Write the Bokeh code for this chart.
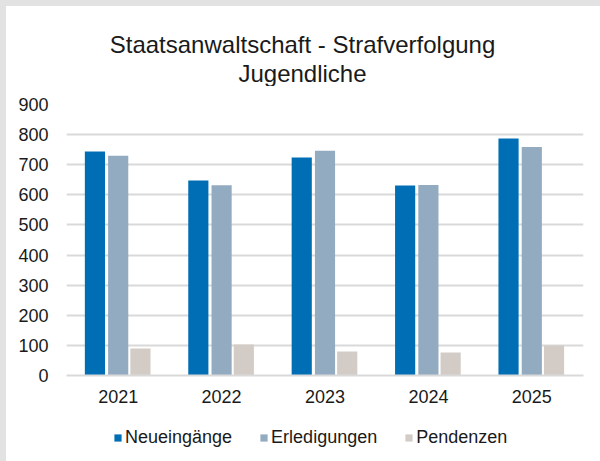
from bokeh.plotting import figure
from bokeh.layouts import column, row
from bokeh.models import (ColumnDataSource, FactorRange, Range1d, Legend, LegendItem, Label,
                          SingleIntervalTicker, Div)
from bokeh.transform import dodge
from bokeh.embed import file_html
from bokeh.resources import INLINE

years = ["2021", "2022", "2023", "2024", "2025"]
neueingaenge = [744, 648, 724, 631, 787]
erledigungen = [730, 632, 746, 633, 759]
pendenzen = [90, 103, 80, 76, 100]
series_names = ["Neueingänge", "Erledigungen", "Pendenzen"]
colors = ["#006EB5", "#93ABC0", "#D3CCC6"]
title_lines = ["Staatsanwaltschaft - Strafverfolgung", "Jugendliche"]

FONT = "Liberation Sans"
TXT = "#1a1a1a"
GRAY = "#e2e2e2"

src = ColumnDataSource(dict(year=years, neu=neueingaenge, erl=erledigungen, pen=pendenzen))
cols = ["neu", "erl", "pen"]
offsets = [-0.225, 0.0, 0.215]

# title strip: a blank figure whose ranges equal page pixels
tf = figure(width=594, height=80, x_range=Range1d(66, 583), y_range=Range1d(86, 6),
            output_backend="svg", toolbar_location=None,
            min_border_left=0, min_border_right=0, min_border_top=0, min_border_bottom=0)
tf.axis.visible = False
tf.grid.visible = False
tf.outline_line_color = None
tf.background_fill_color = "white"
tf.border_fill_color = "white"
for t, yb in zip(title_lines, [44, 73]):
    tf.add_layout(Label(x=302, y=yb, text=t, text_font=FONT, text_font_size="24px",
                        text_color=TXT, text_align="center", text_baseline="alphabetic"))

p = figure(width=594, height=330, x_range=FactorRange(*years, range_padding=0),
           y_range=Range1d(0, 900), output_backend="svg", toolbar_location=None,
           min_border_left=60, min_border_right=17, min_border_top=18, min_border_bottom=41)
p.outline_line_color = None
p.background_fill_color = "white"
p.border_fill_color = "white"

for col, off, c in zip(cols, offsets, colors):
    p.vbar(x=dodge("year", off, range=p.x_range), top=col, width=0.195, source=src,
           fill_color=c, line_color=None)

p.xgrid.grid_line_color = None
p.ygrid.grid_line_color = "#d9d9d9"
p.ygrid.grid_line_width = 2
p.yaxis.ticker = SingleIntervalTicker(interval=100)

for ax in (p.xaxis[0], p.yaxis[0]):
    ax.major_tick_line_color = None
    ax.minor_tick_line_color = None
    ax.major_label_text_font = FONT
    ax.major_label_text_font_size = "18px"
    ax.major_label_text_color = TXT
p.yaxis.axis_line_color = None
p.yaxis.major_label_standoff = 12
p.xaxis.axis_line_color = "#d9d9d9"
p.xaxis.axis_line_width = 2
p.xaxis.major_label_standoff = 8

# legend strip (separate figure so that the legend is not clipped by the chart frame)
leg = figure(width=594, height=45, x_range=p.x_range, y_range=Range1d(-1, -2),
             output_backend="svg", toolbar_location=None,
             min_border_left=0, min_border_right=0, min_border_top=0, min_border_bottom=0)
leg.axis.visible = False
leg.grid.visible = False
leg.outline_line_color = None
leg.background_fill_color = "white"
leg.border_fill_color = "white"
leg_rs = [leg.vbar(x=dodge("year", off, range=p.x_range), top=col, width=0.195, source=src,
                   fill_color=c, line_color=None)
          for col, off, c in zip(cols, offsets, colors)]
legend = Legend(items=[LegendItem(label=n, renderers=[r]) for n, r in zip(series_names, leg_rs)],
                orientation="horizontal", location=(47, 13),
                label_text_font=FONT, label_text_font_size="18px", label_text_color=TXT,
                glyph_width=9, glyph_height=9, label_standoff=3, spacing=27,
                padding=0, margin=0, border_line_color=None, background_fill_alpha=0)
leg.add_layout(legend, "center")

top_strip = Div(text="", width=600, height=6, margin=0, styles={"background-color": GRAY})
left_strip = Div(text="", width=6, height=455, margin=0, styles={"background-color": GRAY})
layout = column(top_strip, row(left_strip, column(tf, p, leg, spacing=0), spacing=0), spacing=0)
open("out.html", "w").write(file_html(layout, INLINE))
